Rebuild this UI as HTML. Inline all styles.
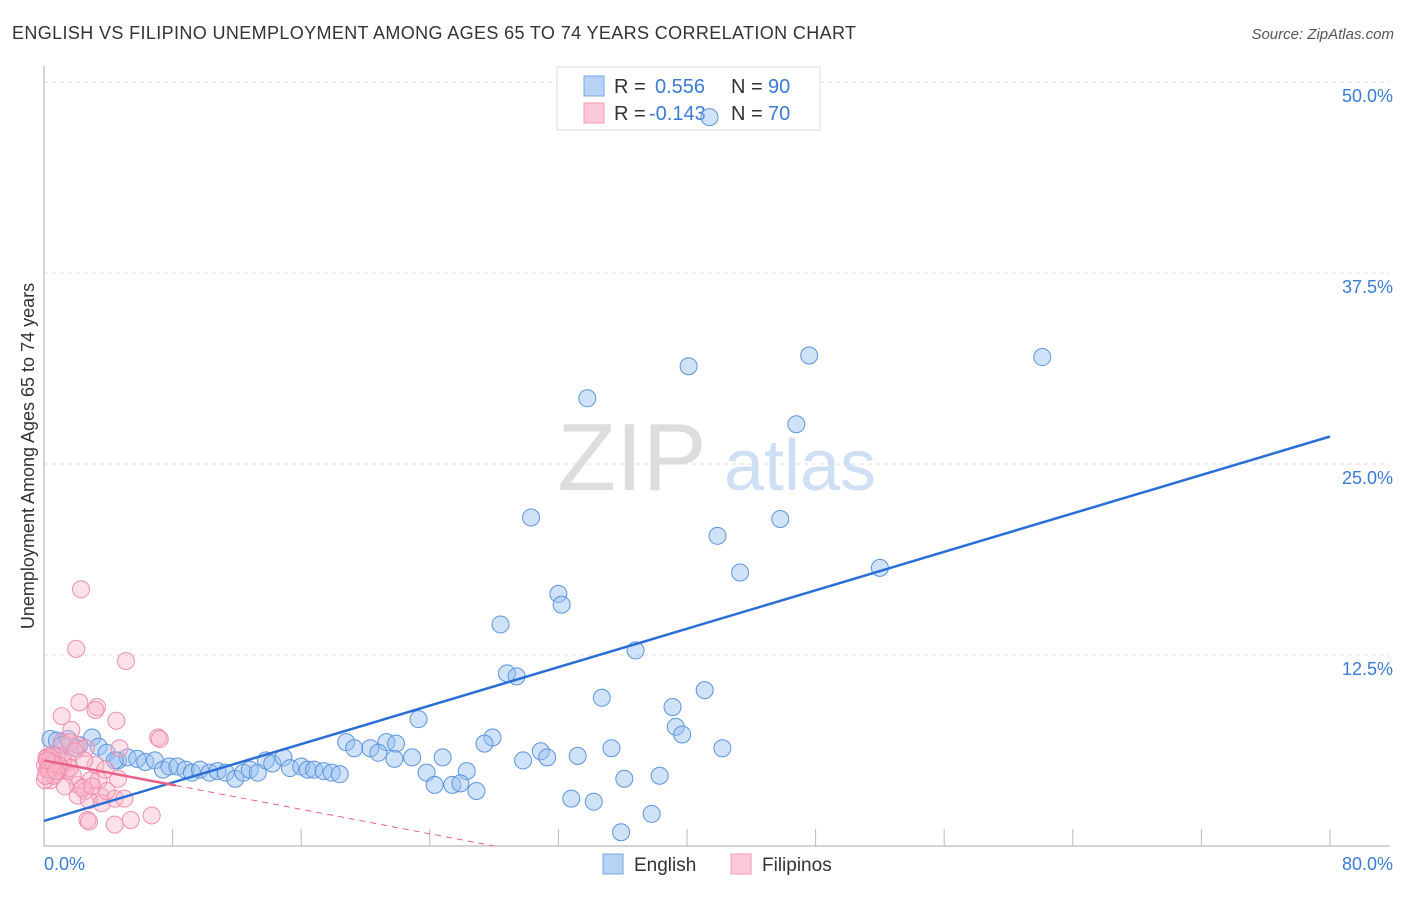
<!DOCTYPE html>
<html><head><meta charset="utf-8"><style>
body{margin:0;background:#fff;font-family:"Liberation Sans",sans-serif}
svg text{font-family:"Liberation Sans",sans-serif}
</style></head><body>
<svg id="c" width="1406" height="892" xmlns="http://www.w3.org/2000/svg">
<text x="12" y="39" font-size="18" fill="#333" textLength="844">ENGLISH VS FILIPINO UNEMPLOYMENT AMONG AGES 65 TO 74 YEARS CORRELATION CHART</text>
<text x="1394" y="39" font-size="15" fill="#555" font-style="italic" text-anchor="end">Source: ZipAtlas.com</text>
<text x="632" y="490" font-size="96" fill="#ddd" font-family="Liberation Serif" text-anchor="middle">ZIP</text>
<text x="800" y="490" font-size="72" fill="#cfe0f5" text-anchor="middle">atlas</text>
<text transform="translate(34,456) rotate(-90)" font-size="18" fill="#333" text-anchor="middle">Unemployment Among Ages 65 to 74 years</text>
<g id="grid"></g>
<g>
<rect x="557" y="67" width="263" height="63" fill="#fff" stroke="#ddd"/>
<rect x="584" y="76" width="20" height="20" fill="#b8d2f5" stroke="#7aa6e6"/>
<text x="614" y="93" font-size="20" fill="#333">R =</text>
<text x="655" y="93" font-size="20" fill="#3a7bd5">0.556</text>
<text x="731" y="93" font-size="20" fill="#333">N =</text>
<text x="768" y="93" font-size="20" fill="#3a7bd5">90</text>
<rect x="584" y="103" width="20" height="20" fill="#fcc9d8" stroke="#f29ab5"/>
<text x="614" y="120" font-size="20" fill="#333">R =</text>
<text x="649" y="120" font-size="20" fill="#3a7bd5">-0.143</text>
<text x="731" y="120" font-size="20" fill="#333">N =</text>
<text x="768" y="120" font-size="20" fill="#3a7bd5">70</text>
</g>
<g id="pts"></g><g id="lines"></g>
<g>
<rect x="603" y="854" width="20" height="20" fill="#b8d2f5" stroke="#7aa6e6"/>
<text x="634" y="871" font-size="19" fill="#333">English</text>
<rect x="731" y="854" width="20" height="20" fill="#fcc9d8" stroke="#f29ab5"/>
<text x="762" y="871" font-size="19" fill="#333">Filipinos</text>
</g>
</svg>
<script>
const yTicks=[12.5,25,37.5,50];
const yTickLabels=["12.5%","25.0%","37.5%","50.0%"];
const xTicks=[8,16,24,32,40,48,56,64,72,80];
const englishX=[41.4,40.1,47.6,62.1,33.8,46.8,30.3,45.8,41.9,43.3,52.0,32.0,32.2,28.4,36.8,28.8,29.4,34.7,41.1,23.3,39.1,39.3,39.7,27.9,27.4,42.2,35.3,18.8,19.3,20.3,21.3,21.9,22.9,21.8,20.8,24.8,29.8,30.9,31.3,33.2,38.3,36.1,26.3,23.8,24.3,25.4,25.9,26.9,32.8,34.2,37.8,35.9,0.4,0.8,1.5,2.99,3.4,3.9,4.6,5.2,5.8,6.3,6.9,7.4,7.8,8.3,8.8,9.2,9.7,10.3,10.8,11.3,11.9,12.4,12.8,13.3,13.8,14.2,14.9,15.3,16.0,16.4,16.8,17.4,17.9,18.4,1.1,2.2,4.4,2.0];
const englishY=[47.7,31.4,32.1,32.0,29.3,27.6,21.5,21.4,20.3,17.9,18.2,16.5,15.8,14.5,12.8,11.3,11.1,9.7,10.2,8.3,9.1,7.8,7.3,7.1,6.7,6.4,6.4,6.8,6.4,6.4,6.8,6.7,5.8,5.7,6.1,5.8,5.6,6.2,5.8,5.9,4.6,4.4,4.9,4.8,4.0,4.0,4.1,3.6,3.1,2.9,2.1,0.9,7.0,6.9,7.0,7.1,6.5,6.1,5.6,5.8,5.7,5.5,5.6,5.0,5.2,5.2,5.0,4.8,5.0,4.8,4.9,4.8,4.4,4.8,5.0,4.8,5.6,5.4,5.8,5.1,5.2,5.0,5.0,4.9,4.8,4.7,6.6,6.6,5.6,6.4];
const filipinoX=[2.3,2.0,5.1,2.2,3.3,3.2,1.1,4.5,1.7,7.1,7.2,4.7,2.05,1.1,1.6,2.6,0.5,0.06,0.25,0.7,1.0,1.4,0.4,0.06,2.1,2.9,3.4,2.55,2.1,3.5,4.4,5.0,2.8,3.6,2.7,2.8,4.4,5.4,6.7,4.6,1.5,3.2,3.8,1.8,0.9,0.6,1.2,0.8,1.9,2.4,3.0,1.3,0.3,0.15,0.5,0.2,0.7,1.0,0.6,0.35,0.3,0.9,0.1,0.4,0.55,0.2,1.6,0.75,2.5,3.9];
const filipinoY=[16.8,12.9,12.1,9.4,9.1,8.9,8.5,8.2,7.6,7.1,7.0,6.4,6.6,6.8,6.8,6.4,5.6,5.3,5.8,5.1,5.2,4.9,4.3,4.3,4.0,4.3,4.3,3.6,3.3,3.3,3.1,3.1,3.0,2.8,1.7,1.6,1.4,1.7,2.0,4.4,5.5,5.3,5.0,4.6,4.9,5.4,5.6,5.9,6.2,3.8,3.9,3.9,5.2,5.8,6.0,5.0,4.7,5.2,4.6,5.5,5.0,5.3,4.6,5.8,5.4,5.6,5.1,4.9,5.6,3.6];
const englishFit=[1.64,26.8];
const filipinoFit=[5.6,-0.2];

const X=v=>44+v*16.075, Y=v=>846-v*15.28;
const NS="http://www.w3.org/2000/svg";
function mk(tag,attrs,parent){const e=document.createElementNS(NS,tag);for(const k in attrs)e.setAttribute(k,attrs[k]);document.getElementById(parent).appendChild(e);return e;}
let g;
yTicks.forEach((t,i)=>{
 g=mk('line',{x1:44,x2:1390,y1:Y(t),y2:Y(t),stroke:'#ddd','stroke-dasharray':'4,4'},'grid');
 
 
 g=mk('text',{x:1393,y:Y(t)+20,'font-size':18,fill:'#3a7bd5','text-anchor':'end'},'grid');
 g.textContent=yTickLabels[i];
 
 
});
g=mk('line',{x1:44,x2:44,y1:66,y2:846,stroke:'#aaa'},'grid');


g=mk('line',{x1:44,x2:1390,y1:846,y2:846,stroke:'#aaa'},'grid');


xTicks.forEach(t=>{
 g=mk('line',{x1:X(t),x2:X(t),y1:829,y2:846,stroke:'#bbb'},'grid');
 
 
});
g=mk('text',{x:44,y:870,'font-size':18,fill:'#3a7bd5'},'grid');g.textContent='0.0%';


g=mk('text',{x:1393,y:870,'font-size':18,fill:'#3a7bd5','text-anchor':'end'},'grid');g.textContent='80.0%';


englishX.forEach((x,i)=>{
 g=mk('circle',{cx:X(x),cy:Y(englishY[i]),r:8.5,fill:'rgba(150,190,240,0.45)',stroke:'#5b95e0','stroke-width':1},'pts');
 
 
});
filipinoX.forEach((x,i)=>{
 g=mk('circle',{cx:X(x),cy:Y(filipinoY[i]),r:8.5,fill:'rgba(250,180,200,0.4)',stroke:'#ef8fae','stroke-width':1},'pts');
 
 
});
g=mk('line',{x1:X(0),y1:Y(englishFit[0]),x2:X(80),y2:Y(englishFit[1]),stroke:'#2a6fd6','stroke-width':2.5},'lines');


const fy=x=>filipinoFit[0]+filipinoFit[1]*x;
const xEnd=-filipinoFit[0]/filipinoFit[1];
g=mk('line',{x1:X(0),y1:Y(fy(0)),x2:X(8.2),y2:Y(fy(8.2)),stroke:'#e8608a','stroke-width':2.5},'lines');


g=mk('line',{x1:X(8.2),y1:Y(fy(8.2)),x2:X(xEnd),y2:Y(0),stroke:'#e8608a','stroke-width':1,'stroke-dasharray':'6,5'},'lines');


</script>
</body></html>
